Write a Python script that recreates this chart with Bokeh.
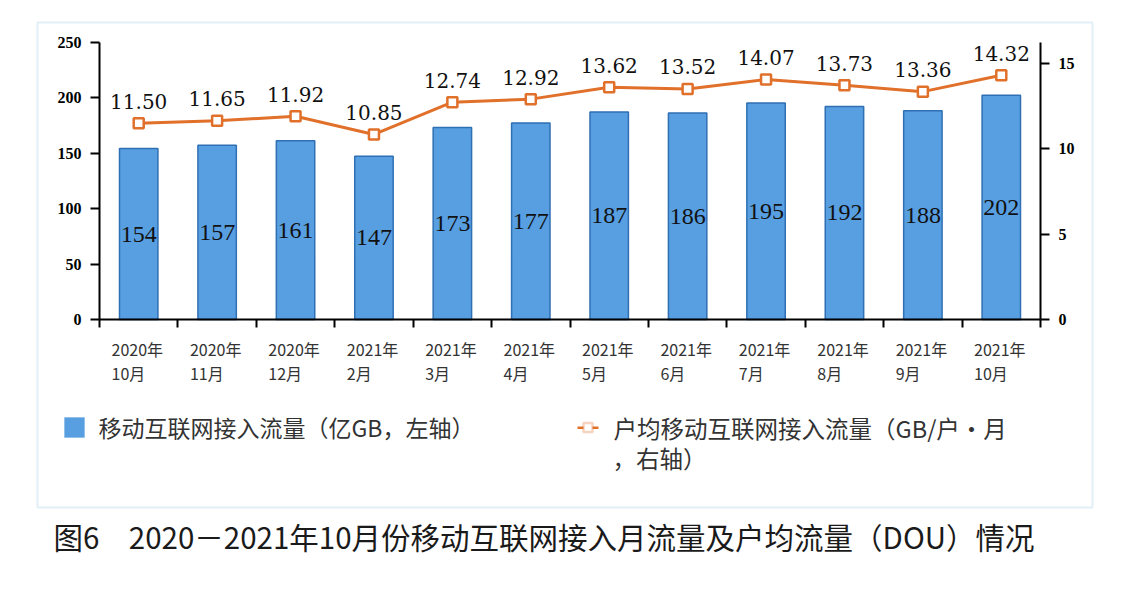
from bokeh.plotting import figure
from bokeh.models import (Range1d, LinearAxis, FixedTicker, ColumnDataSource, LabelSet,
                          Label, BoxAnnotation)
from bokeh.embed import file_html
from bokeh.resources import INLINE
from bokeh.core.properties import value

cat_year = ["2020年", "2020年", "2020年", "2021年", "2021年", "2021年",
            "2021年", "2021年", "2021年", "2021年", "2021年", "2021年"]
cat_month = ["10月", "11月", "12月", "2月", "3月", "4月",
             "5月", "6月", "7月", "8月", "9月", "10月"]
traffic = [154, 157, 161, 147, 173, 177, 187, 186, 195, 192, 188, 202]
dou = [11.50, 11.65, 11.92, 10.85, 12.74, 12.92, 13.62, 13.52, 14.07, 13.73, 13.36, 14.32]
left_ticks = [0, 50, 100, 150, 200, 250]
right_ticks = [0, 5, 10, 15]
left_max = 250
right_max = 16.27
legend_bar = "移动互联网接入流量（亿GB，左轴）"
legend_line_1 = "户均移动互联网接入流量（GB/户·月"
legend_line_2 = "，右轴）"
caption = "图6　2020－2021年10月份移动互联网接入月流量及户均流量（DOU）情况"

BAR = "#589fe2"
BAR_EDGE = "#2f6fb3"
ORANGE = "#e0702a"
TXT = "#333333"

# canvas / plot-area geometry (pixels)
W, H = 1120, 588
PX_L, PX_R = 99, 1040
PY_0, PY_T = 319, 41.5

n = len(traffic)
xs_px = (PX_R - PX_L) / n
ys_px = (PY_0 - PY_T) / left_max
x_range = Range1d(-PX_L / xs_px, (W - PX_L) / xs_px)
y_lo, y_hi = -(H - PY_0) / ys_px, PY_0 / ys_px
y_range = Range1d(y_lo, y_hi)
k = right_max / left_max

xs = [i + 0.5 for i in range(n)]
src = ColumnDataSource(dict(
    x=xs, traffic=traffic, half=[t / 2 for t in traffic],
    traffic_lbl=[str(t) for t in traffic],
    dou=dou, dou_lbl=["%.2f" % d for d in dou],
    xl=[i + 12 / xs_px for i in range(n)], zero=[0] * n,
    year=cat_year, month=cat_month,
))

p = figure(width=W, height=H, output_backend="svg", toolbar_location=None,
           x_range=x_range, y_range=y_range,
           min_border=0, min_border_left=0, min_border_right=0,
           min_border_top=0, min_border_bottom=0)
p.extra_y_ranges = {"dou": Range1d(y_lo * k, y_hi * k)}
p.xgrid.visible = False
p.ygrid.visible = False
p.xaxis.visible = False
p.yaxis.visible = False
p.outline_line_color = None
p.background_fill_color = "white"
p.border_fill_color = "white"

p.vbar(x="x", top="traffic", width=0.49, source=src, fill_color=BAR,
       line_color=BAR_EDGE, line_width=1.5)
p.line(x="x", y="dou", source=src, y_range_name="dou", line_color=ORANGE, line_width=3)
p.scatter(x="x", y="dou", source=src, y_range_name="dou", marker="square", size=10,
          fill_color="white", line_color=ORANGE, line_width=2.5)

p.add_layout(LabelSet(x="x", y="half", text="traffic_lbl", source=src,
                      text_align="center", text_baseline="middle",
                      text_font=value("Liberation Serif"), text_font_size="24px",
                      text_color="#111111"))
p.add_layout(LabelSet(x="x", y="dou", text="dou_lbl", source=src, y_range_name="dou",
                      y_offset=22, text_align="center", text_baseline="middle",
                      text_font=value("DejaVu Serif"), text_font_size="20px",
                      text_color="#111111"))

# axes (placed on the plot area through fixed_location)
ya = LinearAxis(ticker=FixedTicker(ticks=left_ticks), fixed_location=0,
                bounds=(0, left_max))
ra = LinearAxis(y_range_name="dou", ticker=FixedTicker(ticks=right_ticks),
                fixed_location=n, bounds=(0, right_max))
xa = LinearAxis(ticker=FixedTicker(ticks=list(range(n + 1))), fixed_location=0,
                bounds=(0, n))
p.add_layout(ya, "left")
p.add_layout(ra, "right")
p.add_layout(xa, "below")
for ax in [ya, ra, xa]:
    ax.axis_line_color = "black"
    ax.axis_line_width = 2
    ax.major_tick_line_color = "black"
    ax.major_tick_line_width = 2
    ax.major_tick_out = 9
    ax.major_tick_in = 0
    ax.minor_tick_line_color = None
for ax in [ya, ra]:
    ax.major_label_standoff = 9
    ax.major_label_text_font = "Liberation Serif"
    ax.major_label_text_font_style = "bold"
    ax.major_label_text_font_size = "16px"
    ax.major_label_text_color = "black"
xa.major_tick_out = 8
xa.major_label_text_color = None

# category labels (two lines, left aligned)
for col, off in (("year", -29), ("month", -53)):
    p.add_layout(LabelSet(x="xl", y="zero", text=col, source=src, y_offset=off,
                          text_align="left", text_baseline="middle",
                          text_font=value("Noto Sans CJK SC"), text_font_size="16px",
                          text_color=TXT))

def box(l, r, t, b, **kw):
    return BoxAnnotation(left=l, right=r, top=H - t, bottom=H - b,
                         left_units="screen", right_units="screen",
                         top_units="screen", bottom_units="screen", **kw)

def label(x, y, text, size, color=TXT):
    return Label(x=x, y=H - y, x_units="screen", y_units="screen", text=text,
                 text_baseline="middle", text_font="Noto Sans CJK SC",
                 text_font_size=size, text_color=color)

# outer frame box
p.add_layout(box(37, 1092, 22, 507, fill_alpha=0, line_color="#9cc9e6", line_width=2))

# legend
p.add_layout(box(64, 84, 417, 437, fill_color=BAR, fill_alpha=1, line_color=BAR))
p.add_layout(label(98, 426, legend_bar, "23px"))
p.add_layout(box(577, 598, 426, 428.5, fill_color=ORANGE, fill_alpha=1, line_color=None))
p.add_layout(box(583, 592, 422.5, 431.5, fill_color="white", fill_alpha=1,
                 line_color=ORANGE, line_width=2.5))
p.add_layout(label(613, 427, legend_line_1, "23.5px"))
p.add_layout(label(612, 457, legend_line_2, "23.5px"))

# caption
p.add_layout(label(53, 535, caption, "29.5px", "#1a1a1a"))

open("out.html", "w").write(file_html(p, INLINE))
